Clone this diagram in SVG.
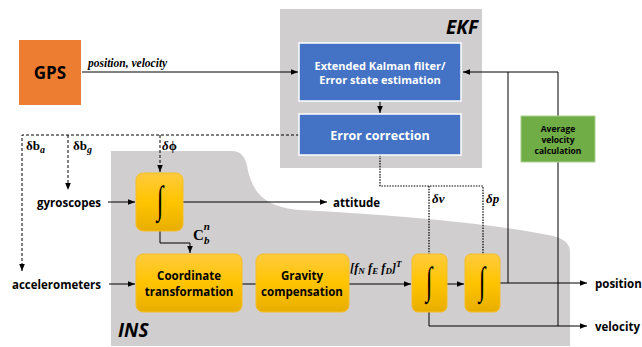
<svg xmlns="http://www.w3.org/2000/svg" width="642" height="347" viewBox="0 0 642 347">
  <defs>
    <linearGradient id="yellow" x1="0" y1="0" x2="0" y2="1">
      <stop offset="0" stop-color="#FFCB3D"/>
      <stop offset="0.5" stop-color="#FFC400"/>
      <stop offset="1" stop-color="#E8AE00"/>
    </linearGradient>
    <marker id="arr" viewBox="0 0 8 8" refX="8" refY="4" markerWidth="7" markerHeight="7" markerUnits="userSpaceOnUse" orient="auto">
      <path d="M0,0.8 L8,4 L0,7.2 Z" fill="#000"/>
    </marker>
  </defs>
  <style>
    .lbl { font-family: "Open Sans", "Noto Sans", sans-serif; font-weight: bold; fill: #000; }
    .wht { font-family: "Open Sans", "Noto Sans", sans-serif; font-weight: bold; fill: #fff; }
    .math { font-family: "Liberation Serif", "DejaVu Serif", serif; font-weight: bold; font-style: italic; fill: #000; }
    .mup { font-family: "Liberation Serif", "DejaVu Serif", serif; font-weight: bold; fill: #000; }
    .int { font-family: "Liberation Serif", "DejaVu Serif", serif; fill: #000; }
    .box { fill: url(#yellow); stroke: #F5BE2A; stroke-width: 1; }
    .blue { fill: #4472C4; stroke: #fff; stroke-width: 1.5; }
    .ln { fill: none; stroke: #000; stroke-width: 1; }
    .dash { fill: none; stroke: #000; stroke-width: 1; stroke-dasharray: 3 2; }
    .dot { fill: none; stroke: #000; stroke-width: 1.2; stroke-dasharray: 1.5 1.2; }
  </style>

  <!-- background regions -->
  <g id="ekf-region">
    <rect x="280" y="9" width="202" height="159" fill="#D0CECE"/>
    <text x="478" y="34" text-anchor="end" class="lbl" font-size="19" font-style="italic">EKF</text>
  </g>
  <g id="ins-region">
    <path d="M111,151 L232,151 Q244,151 247,166 C252,194 266,207 300,210 Q470,219 553,236 Q570,240 570,252 L570,346 L111,346 Z" fill="#D0CECE"/>
    <text x="118" y="337" class="lbl" font-size="19" font-style="italic">INS</text>
  </g>

  <!-- connectors -->
  <g id="connectors">
    <path class="ln" d="M82,72 H298" marker-end="url(#arr)"/>
    <text x="88" y="67" class="math" font-size="11.5">position, velocity</text>
    <path class="ln" d="M558,116 V72 H463" marker-end="url(#arr)"/>
    <path class="ln" d="M508,72 V283"/>
    <path class="ln" d="M558,162 V326"/>
    <path class="ln" d="M380,101 V113" marker-end="url(#arr)"/>
    <!-- bias and attitude feedback -->
    <path class="dash" d="M299,135 H22 V271" marker-end="url(#arr)"/>
    <path class="dash" d="M68,135 V190" marker-end="url(#arr)"/>
    <path class="dash" d="M160,135 V172" marker-end="url(#arr)"/>
    <text x="26" y="150" class="mup" font-size="13">δb<tspan class="math" font-size="10" dy="3">a</tspan></text>
    <text x="73" y="150" class="mup" font-size="13">δb<tspan class="math" font-size="10" dy="3">g</tspan></text>
    <text x="162" y="150" class="mup" font-size="13"><tspan class="math">δ</tspan>ϕ</text>
    <!-- velocity / position feedback -->
    <path class="dot" d="M380,155 V186 H483 V254"/>
    <path class="dot" d="M429,186 V254"/>
    <text x="432" y="203" class="math" font-size="13">δ<tspan class="mup">v</tspan></text>
    <text x="486" y="203" class="math" font-size="13">δp</text>
    <!-- sensor inputs -->
    <path class="ln" d="M108,202 H135" marker-end="url(#arr)"/>
    <path class="ln" d="M109,284 H135" marker-end="url(#arr)"/>
    <path class="ln" d="M183,202 H327" marker-end="url(#arr)"/>
    <path class="ln" d="M160,231 V243 H190 V253" marker-end="url(#arr)"/>
    <text x="193" y="240" class="mup" font-size="15">C<tspan class="math" font-size="11" dx="0" dy="-10">n</tspan><tspan class="math" font-size="11" dx="-6" dy="14">b</tspan></text>
    <path class="ln" d="M242,284 H256"/>
    <path class="ln" d="M349,284 H411" marker-end="url(#arr)"/>
    <text x="350" y="272" class="math" font-size="12.5">[f<tspan font-size="9" dy="2">N</tspan><tspan dy="-2"> f</tspan><tspan font-size="9" dy="2">E</tspan><tspan dy="-2"> f</tspan><tspan font-size="9" dy="2">D</tspan><tspan dy="-2">]</tspan><tspan font-size="9" dy="-5">T</tspan></text>
    <path class="ln" d="M447,284 H464" marker-end="url(#arr)"/>
    <path class="ln" d="M500,283 H587" marker-end="url(#arr)"/>
    <path class="ln" d="M429,312 V326 H587" marker-end="url(#arr)"/>
  </g>

  <!-- nodes -->
  <g id="gps">
    <rect x="19" y="40" width="62" height="65" fill="#ED7D31"/>
    <text x="50" y="79" text-anchor="middle" class="lbl" font-size="17">GPS</text>
  </g>
  <g id="kalman-filter">
    <rect class="blue" x="299" y="43" width="162" height="58"/>
    <text x="380" y="70" text-anchor="middle" class="wht" font-size="11">Extended Kalman filter/</text>
    <text x="380" y="84" text-anchor="middle" class="wht" font-size="11">Error state estimation</text>
  </g>
  <g id="error-correction">
    <rect class="blue" x="299" y="114" width="162" height="41"/>
    <text x="380" y="140" text-anchor="middle" class="wht" font-size="12.5">Error correction</text>
  </g>
  <g id="avg-velocity">
    <rect x="521" y="116" width="74" height="46" fill="#70AD47" stroke="#A9D18E" stroke-width="1"/>
    <text x="558" y="132" text-anchor="middle" class="lbl" font-size="8.5">Average</text>
    <text x="558" y="143" text-anchor="middle" class="lbl" font-size="8.5">velocity</text>
    <text x="558" y="154" text-anchor="middle" class="lbl" font-size="8.5">calculation</text>
  </g>
  <g id="gyroscopes">
    <text x="101" y="207" text-anchor="end" class="lbl" font-size="11.5">gyroscopes</text>
  </g>
  <g id="accelerometers">
    <text x="101" y="289" text-anchor="end" class="lbl" font-size="11.5">accelerometers</text>
  </g>
  <g id="attitude">
    <text x="333" y="207" class="lbl" font-size="11.5">attitude</text>
  </g>
  <g id="position">
    <text x="595" y="288" class="lbl" font-size="11.5">position</text>
  </g>
  <g id="velocity">
    <text x="595" y="331" class="lbl" font-size="11.5">velocity</text>
  </g>
  <g id="attitude-integrator">
    <rect class="box" x="136" y="173" width="47" height="58" rx="7"/>
    <text transform="translate(160 213) scale(0.9 1.5)" text-anchor="middle" class="int" font-size="26">∫</text>
  </g>
  <g id="coordinate-transformation">
    <rect class="box" x="136" y="254" width="106" height="58" rx="7"/>
    <text x="189" y="280" text-anchor="middle" class="lbl" font-size="11.5">Coordinate</text>
    <text x="189" y="296" text-anchor="middle" class="lbl" font-size="11.5">transformation</text>
  </g>
  <g id="gravity-compensation">
    <rect class="box" x="256" y="254" width="93" height="58" rx="7"/>
    <text x="302" y="280" text-anchor="middle" class="lbl" font-size="11.5">Gravity</text>
    <text x="302" y="296" text-anchor="middle" class="lbl" font-size="11.5">compensation</text>
  </g>
  <g id="velocity-integrator">
    <rect class="box" x="412" y="254" width="35" height="58" rx="6"/>
    <text transform="translate(429 294) scale(0.9 1.5)" text-anchor="middle" class="int" font-size="26">∫</text>
  </g>
  <g id="position-integrator">
    <rect class="box" x="465" y="254" width="35" height="58" rx="6"/>
    <text transform="translate(482 294) scale(0.9 1.5)" text-anchor="middle" class="int" font-size="26">∫</text>
  </g>
</svg>
